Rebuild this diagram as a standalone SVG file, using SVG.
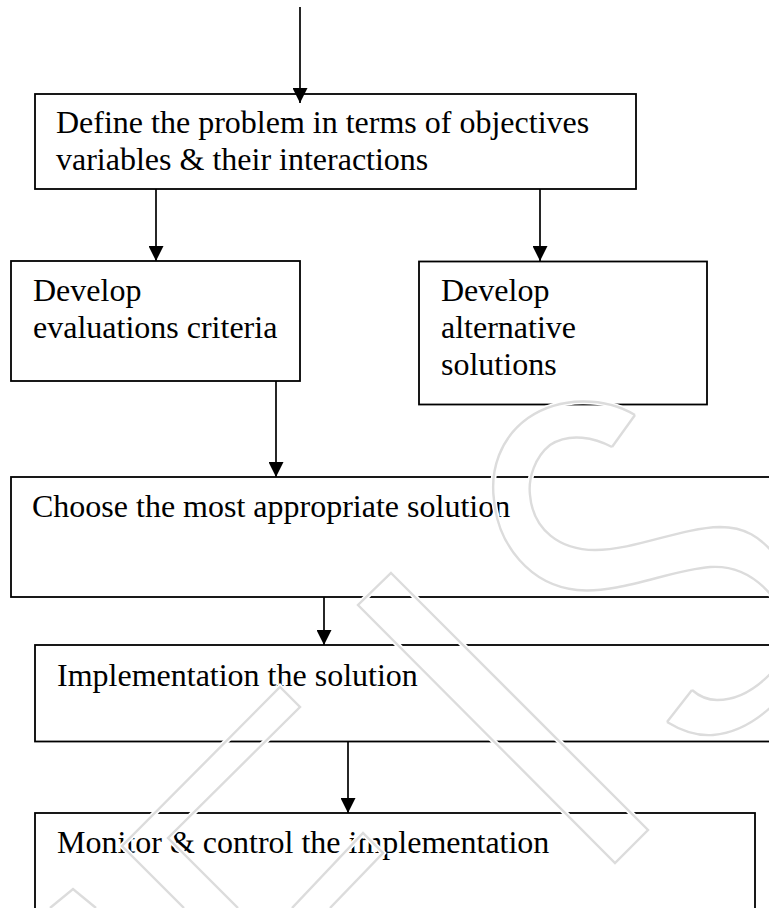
<svg xmlns="http://www.w3.org/2000/svg" width="769" height="908" viewBox="0 0 769 908">
<style>
.box{fill:#fff;stroke:#000;stroke-width:1.8}
.lbl{font-family:"Liberation Serif","Times New Roman",serif;font-size:32px;fill:#000}
.con{stroke:#000;stroke-width:1.7;fill:none}
.wmh{fill:none;stroke:#fff;stroke-width:5.5;stroke-linejoin:miter}
.wm{fill:none;stroke:#dcdcdc;stroke-width:2.4;stroke-linejoin:miter}
</style>
<defs>
<marker id="ah" markerUnits="userSpaceOnUse" markerWidth="15" markerHeight="15" refX="15" refY="7.5" orient="auto" viewBox="0 0 15 15">
<path d="M0,0 L15,7.5 L0,15 Z" fill="#000"/>
</marker>
</defs>
<rect width="769" height="908" fill="#fff"/>
<g id="n1">
<rect class="box" x="35" y="94" width="601" height="95"/>
<text class="lbl" x="56" y="132.5">Define the problem in terms of objectives</text>
<text class="lbl" x="56" y="170">variables &amp; their interactions</text>
</g>
<g id="n2">
<rect class="box" x="11" y="261" width="289" height="120"/>
<text class="lbl" x="33" y="301">Develop</text>
<text class="lbl" x="33" y="338">evaluations criteria</text>
</g>
<g id="n3">
<rect class="box" x="419" y="261.5" width="288" height="143"/>
<text class="lbl" x="441" y="301">Develop</text>
<text class="lbl" x="441" y="338">alternative</text>
<text class="lbl" x="441" y="375">solutions</text>
</g>
<g id="n4">
<rect class="box" x="11" y="477" width="780" height="120"/>
<text class="lbl" x="32" y="517">Choose the most appropriate solution</text>
</g>
<g id="n5">
<rect class="box" x="35" y="645" width="780" height="96.5"/>
<text class="lbl" x="57" y="686">Implementation the solution</text>
</g>
<g id="n6">
<rect class="box" x="35" y="813" width="720" height="120"/>
<text class="lbl" x="57" y="853">Monitor &amp; control the implementation</text>
</g>
<g id="connectors">
<line class="con" x1="300" y1="7" x2="300" y2="103" marker-end="url(#ah)"/>
<line class="con" x1="156" y1="189" x2="156" y2="261" marker-end="url(#ah)"/>
<line class="con" x1="540" y1="189" x2="540" y2="261" marker-end="url(#ah)"/>
<line class="con" x1="276" y1="381" x2="276" y2="477" marker-end="url(#ah)"/>
<line class="con" x1="324" y1="597" x2="324" y2="645" marker-end="url(#ah)"/>
<line class="con" x1="348" y1="741.5" x2="348" y2="813" marker-end="url(#ah)"/>
</g>
<g id="watermark">
<g class="wmh">
<path d="M635,415 C605,397 560,396 528,418 C500,438 490,470 494,500 C498,545 530,585 577,590 C620,594 670,570 710,567 C740,565 760,580 775,600"/>
<path d="M612,447 C595,438 570,432 550,445 C535,457 528,478 530,495 C533,530 560,550 595,550 C635,550 680,528 720,527 C745,527 760,537 775,555"/>
<path d="M635,415 L612,447"/>
<path d="M667,722 C685,733 700,736 713,735 C735,733 755,722 772,706 M692,690 C700,697 708,700 717,700 C737,700 755,690 772,672 M667,722 L692,690"/>
<path d="M391,573 L648,830 L615,863 L358,605 Z"/>
<path d="M184,908 L122,846 L280,687 L300,707 L168,838 L238,908"/>
<path d="M50,908 L73,889 L96,908"/>
<path d="M292,908 L363,833 L383,853 L330,908"/>
</g>
<g class="wm">
<path d="M635,415 C605,397 560,396 528,418 C500,438 490,470 494,500 C498,545 530,585 577,590 C620,594 670,570 710,567 C740,565 760,580 775,600"/>
<path d="M612,447 C595,438 570,432 550,445 C535,457 528,478 530,495 C533,530 560,550 595,550 C635,550 680,528 720,527 C745,527 760,537 775,555"/>
<path d="M635,415 L612,447"/>
<path d="M667,722 C685,733 700,736 713,735 C735,733 755,722 772,706 M692,690 C700,697 708,700 717,700 C737,700 755,690 772,672 M667,722 L692,690"/>
<path d="M391,573 L648,830 L615,863 L358,605 Z"/>
<path d="M184,908 L122,846 L280,687 L300,707 L168,838 L238,908"/>
<path d="M50,908 L73,889 L96,908"/>
<path d="M292,908 L363,833 L383,853 L330,908"/>
</g>
</g>
</svg>
